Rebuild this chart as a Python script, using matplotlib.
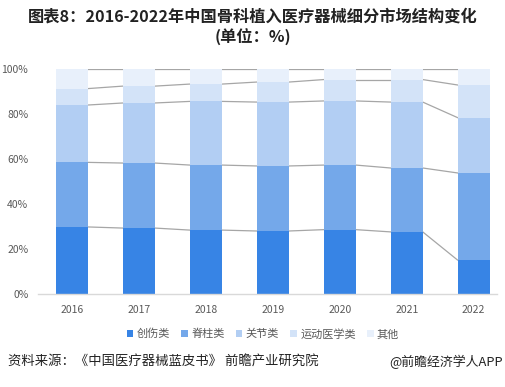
import matplotlib.pyplot as plt
import numpy as np

plt.rcParams["font.family"] = ["Noto Sans CJK SC", "DejaVu Sans"]

years = ["2016", "2017", "2018", "2019", "2020", "2021", "2022"]
categories = ["创伤类", "脊柱类", "关节类", "运动医学类", "其他"]
trauma = [29.8, 29.3, 28.4, 28.0, 28.6, 27.6, 15.1]
spine = [28.7, 28.9, 28.9, 28.9, 28.7, 28.4, 38.7]
joint = [25.5, 26.7, 28.3, 28.4, 28.5, 29.3, 24.6]
sports = [7.3, 7.5, 7.7, 8.9, 9.5, 10.0, 14.5]
others = [8.7, 7.6, 6.7, 5.8, 4.7, 4.7, 7.1]

colors = ["#3784E5", "#74A8EA", "#B2CEF3", "#D3E3F8", "#E8F0FB"]

fig = plt.figure(figsize=(5.06, 3.87), dpi=100)
ax = fig.add_axes([38 / 506, 1 - 294 / 387, 459 / 506, 225 / 387])

x = np.arange(len(years))
width = 0.48
bottom = np.zeros(len(years))
series = [trauma, spine, joint, sports, others]
handles = []
for vals, col, name in zip(series, colors, categories):
    vals = np.array(vals)
    h = ax.bar(x, vals, width, bottom=bottom, color=col, label=name, zorder=2)
    handles.append(h)
    bottom = bottom + vals
    # connector lines between adjacent bars at each stacked level
    for i in range(len(years) - 1):
        ax.plot([x[i] + width / 2, x[i + 1] - width / 2], [bottom[i], bottom[i + 1]],
                color="#A6A6A6", lw=0.9, zorder=1)

ax.set_xlim(-0.51, 6.35)
ax.set_ylim(0, 100)
ax.set_xticks(x)
ax.set_xticklabels(years)
ax.set_yticks([0, 20, 40, 60, 80, 100])
ax.set_yticklabels([f"{v}%" for v in [0, 20, 40, 60, 80, 100]])
ax.tick_params(axis="both", length=0, labelsize=7.5, colors="#595959")
ax.tick_params(axis="x", pad=8)
ax.tick_params(axis="y", pad=7)
for side in ["top", "right", "left"]:
    ax.spines[side].set_visible(False)
ax.spines["bottom"].set_color("#D9D9D9")
ax.spines["bottom"].set_linewidth(1)

fig.text(0.5, 1 - 17 / 387, "图表8：2016-2022年中国骨科植入医疗器械细分市场结构变化",
         ha="center", va="center", fontsize=11.7, fontweight="bold", color="#222222")
fig.text(0.5, 1 - 37 / 387, "(单位：%)",
         ha="center", va="center", fontsize=11.7, fontweight="bold", color="#222222")

fig.legend(handles=handles, labels=categories, loc="center", ncol=5,
           bbox_to_anchor=(263 / 506, 1 - 334 / 387), frameon=False,
           fontsize=8, handlelength=0.6, handleheight=0.6, handletextpad=0.3,
           columnspacing=1.0, labelcolor="#595959")

fig.text(8 / 506, 1 - 362 / 387, "资料来源：《中国医疗器械蓝皮书》 前瞻产业研究院",
         ha="left", va="center", fontsize=9.6, color="#222222")
fig.text(503 / 506, 1 - 362 / 387, "@前瞻经济学人APP",
         ha="right", va="center", fontsize=9.3, color="#222222")

fig.savefig("out.png", dpi=100)
